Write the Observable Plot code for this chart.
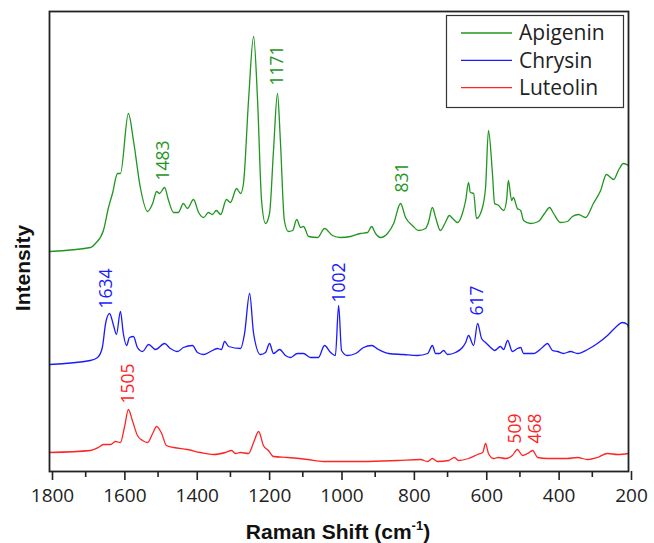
<!DOCTYPE html>
<html><head><meta charset="utf-8">
<script src="https://cdn.jsdelivr.net/npm/d3@7"></script>
<script src="https://cdn.jsdelivr.net/npm/@observablehq/plot@0.6"></script>
<style>body{margin:0;background:#fff;} svg{display:block;}</style>
</head><body><div id="chart"></div>
<script>
// Series names and colours
const seriesNames = ["Apigenin", "Chrysin", "Luteolin"];
const seriesColors = ["#1f961f", "#1a1aff", "#ff2424"];

// Apigenin (stacked offset, arbitrary intensity units)
const apigeninShift = [1800,1687,1673,1651,1637,1626,1612,1604,1582,1568,1549,1529,1515,1504,1496,1482,1471,1457,1444,1430,1419,1402,1388,1374,1361,1350,1339,1327,1311,1300,1283,1272,1264,1250,1236,1225,1214,1203,1192,1181,1170,1162,1151,1140,1128,1117,1106,1098,1084,1059,1040,1018,996,968,941,921,910,899,885,866,849,830,816,797,780,761,753,742,733,720,706,695,686,672,659,650,642,637,628,620,606,595,587,576,570,559,545,537,532,523,518,507,498,490,471,449,432,418,407,388,369,355,338,319,297,277,261,241,228,214,200];
const apigeninIntensity = [220,224,228,241,264,278,298,298,358,331,284,260,268,280,278,284,271,259,259,268,263,272,259,254,259,257,261,257,272,269,283,278,288,371,435,371,271,248,258,321,378,331,251,240,241,252,244,245,235,234,243,236,234,235,238,239,245,238,234,238,248,268,254,246,241,243,249,264,254,241,249,256,253,249,258,271,289,279,278,253,261,284,341,298,268,266,261,271,291,271,274,263,261,251,248,250,258,264,258,249,250,255,257,254,268,281,297,292,301,308,306];

// Chrysin
const chrysinShift = [1800,1687,1667,1654,1645,1634,1623,1615,1604,1596,1587,1579,1568,1557,1543,1526,1507,1482,1466,1446,1430,1405,1391,1374,1355,1336,1325,1316,1305,1272,1261,1247,1236,1217,1203,1192,1181,1164,1148,1134,1115,1098,1079,1057,1040,1023,1010,1001,993,977,954,932,910,891,863,822,783,755,742,733,722,711,700,678,659,650,642,628,617,606,595,581,570,554,545,534,521,507,498,490,463,438,424,410,396,380,360,341,313,286,258,236,217,203,200];
const chrysinIntensity = [107,111,114,124,148,158,146,137,160,138,126,134,135,124,120,127,122,128,123,120,124,126,119,117,120,123,122,130,125,123,138,178,138,117,119,128,118,122,116,114,118,118,114,114,126,119,116,166,121,116,118,124,126,122,118,117,116,118,126,118,118,121,117,119,124,129,136,126,148,133,129,124,121,125,122,131,120,123,124,118,118,124,128,121,120,118,120,118,122,128,136,144,149,147,144];

// Luteolin
const luteolinShift = [1800,1687,1665,1651,1631,1618,1604,1593,1582,1571,1557,1543,1529,1515,1504,1490,1477,1457,1419,1383,1347,1314,1297,1286,1272,1250,1236,1222,1209,1195,1181,1142,1087,1043,1001,932,838,775,755,742,728,697,681,670,642,617,603,595,587,573,559,540,521,507,493,479,465,451,424,396,369,341,313,286,258,230,200];
const luteolinIntensity = [19,21,24,27,27,30,29,44,62,51,36,31,29,38,45,38,26,24,22,19,17,19,21,18,19,18,29,40,26,21,15,14,12,10,10,10,11,12,10,13,10,11,14,11,13,17,19,28,18,13,14,13,16,22,16,18,21,14,13,13,13,14,12,14,18,17,18];

// Peak annotations
const peakText = ["1483","1171","831","1634","1002","617","1505","509","468"];
const peakShift = [1485,1170,826,1642,999,618,1583,512,457];
const peakIntensity = [291,386,279,163,169,156,68,28,28];
const peakSeries = ["Apigenin","Apigenin","Apigenin","Chrysin","Chrysin","Chrysin","Luteolin","Luteolin","Luteolin"];

// Axis ticks
const majorTicks = [1800,1600,1400,1200,1000,800,600,400,200];
const minorTicks = [1700,1500,1300,1100,900,700,500,300];
const xTitle = "Raman Shift (cm";
const xTitleSup = "-1";
const yTitle = "Intensity";

const shifts = [apigeninShift, chrysinShift, luteolinShift];
const intensities = [apigeninIntensity, chrysinIntensity, luteolinIntensity];
const spectra = seriesNames.flatMap((name, i) =>
  shifts[i].map((s, j) => ({series: name, shift: s, intensity: intensities[i][j]})));
const peaks = peakText.map((t, i) => ({text: t, shift: peakShift[i], intensity: peakIntensity[i], series: peakSeries[i]}));

const W = 654, H = 543;
const chart = Plot.plot({
  width: W, height: H,
  marginLeft: 49, marginRight: 26, marginTop: 11, marginBottom: 72,
  style: {fontFamily: "'Open Sans', sans-serif", background: "#fff", color: "#222"},
  x: {domain: [1800, 200]},
  y: {domain: [0, 460], axis: null},
  color: {domain: seriesNames, range: seriesColors},
  marks: [
    Plot.line(spectra, {x: "shift", y: "intensity", z: "series", stroke: "series", strokeWidth: 1.3, curve: "monotone-x"}),
    Plot.text(peaks, {x: "shift", y: "intensity", text: "text", fill: "series", rotate: -90, textAnchor: "start", fontSize: 17.5}),
    Plot.axisX({ticks: majorTicks, tickFormat: d => String(d), tickSize: 9, tickPadding: 8, fontSize: 19, label: null, strokeWidth: 1.6, stroke: "#222", dx: 3}),
    Plot.axisX({ticks: minorTicks, tickSize: 6, text: null, label: null, strokeWidth: 1.6, stroke: "#222"}),
    Plot.frame({stroke: "#222", strokeWidth: 1.8})
  ]
});

const svg = d3.select(chart);
// x axis title with superscript
const xt = svg.append("text")
  .attr("x", 338).attr("y", 539)
  .attr("text-anchor", "middle")
  .attr("font-family", "'Liberation Sans', Arial, sans-serif")
  .attr("font-weight", "bold").attr("font-size", 21).attr("fill", "#111");
xt.append("tspan").text(xTitle);
xt.append("tspan").attr("font-size", 13).attr("dy", -9).text(xTitleSup);
xt.append("tspan").attr("dy", 9).text(")");
// y axis title
svg.append("text")
  .attr("transform", "translate(30,268) rotate(-90)")
  .attr("text-anchor", "middle")
  .attr("font-family", "'Liberation Sans', Arial, sans-serif")
  .attr("font-weight", "bold").attr("font-size", 21).attr("fill", "#111")
  .text(yTitle);
// legend box
const lg = svg.append("g");
lg.append("rect").attr("x", 446.5).attr("y", 15.5).attr("width", 177).attr("height", 92)
  .attr("fill", "#fff").attr("stroke", "#333").attr("stroke-width", 1.2);
seriesNames.forEach((name, i) => {
  const y = 33 + i * 27.3;
  lg.append("line").attr("x1", 461).attr("x2", 512).attr("y1", y).attr("y2", y)
    .attr("stroke", seriesColors[i]).attr("stroke-width", 1.3);
  lg.append("text").attr("x", 519).attr("y", y).attr("dy", "0.35em")
    .attr("text-anchor", "start")
    .attr("font-family", "'Open Sans', sans-serif").attr("font-size", 21).attr("fill", "#222")
    .text(name);
});
document.getElementById("chart").append(chart);
</script>
</body></html>
